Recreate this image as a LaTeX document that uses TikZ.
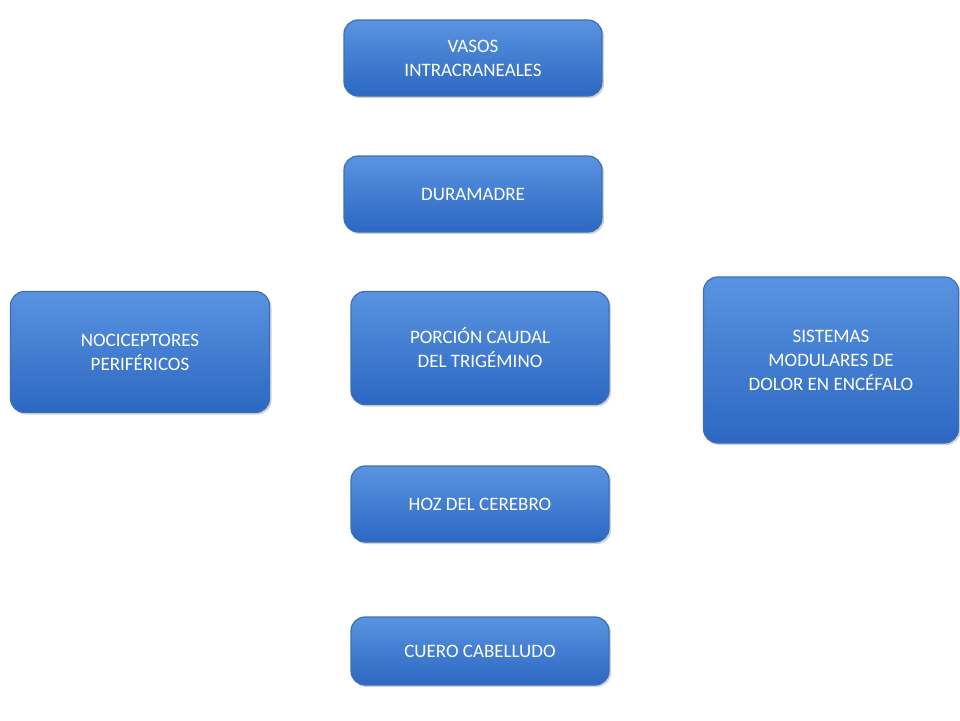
\documentclass[tikz,border=0pt]{standalone}
\usepackage{fontspec}
\setmainfont{Carlito}
\usetikzlibrary{shadows}
\definecolor{boxtop}{HTML}{5A93E0}
\definecolor{boxbot}{HTML}{2C68C2}
\definecolor{boxline}{HTML}{3A70B8}
\tikzset{
  topic/.style={rounded corners=14pt,top color=boxtop,bottom color=boxbot,
    draw=boxline,line width=1.2pt,text=white,align=center,
    font=\fontsize{19}{24}\selectfont,inner sep=2pt,
    drop shadow={shadow xshift=2pt,shadow yshift=-2pt,opacity=0.35}}
}
\begin{document}
\begin{tikzpicture}[x=1pt,y=-1pt]
  \useasboundingbox (0,0) rectangle (960,720);
  \node[topic,minimum width=258pt,minimum height=76pt] (vasos) at (473,58) {VASOS\\INTRACRANEALES};
  \node[topic,minimum width=258pt,minimum height=76pt] (dura) at (473,194) {DURAMADRE};
  \node[topic,minimum width=258pt,minimum height=113pt] (porcion) at (480,348) {PORCIÓN CAUDAL\\DEL TRIGÉMINO};
  \node[topic,minimum width=258pt,minimum height=76pt] (hoz) at (480,504) {HOZ DEL CEREBRO};
  \node[topic,minimum width=258pt,minimum height=68pt] (cuero) at (480,651) {CUERO CABELLUDO};
  \node[topic,minimum width=259pt,minimum height=121pt] (noci) at (140,352) {NOCICEPTORES\\PERIFÉRICOS};
  \node[topic,minimum width=255pt,minimum height=166pt] (sist) at (831,360) {SISTEMAS\\MODULARES DE\\DOLOR EN ENCÉFALO};
\end{tikzpicture}
\end{document}
